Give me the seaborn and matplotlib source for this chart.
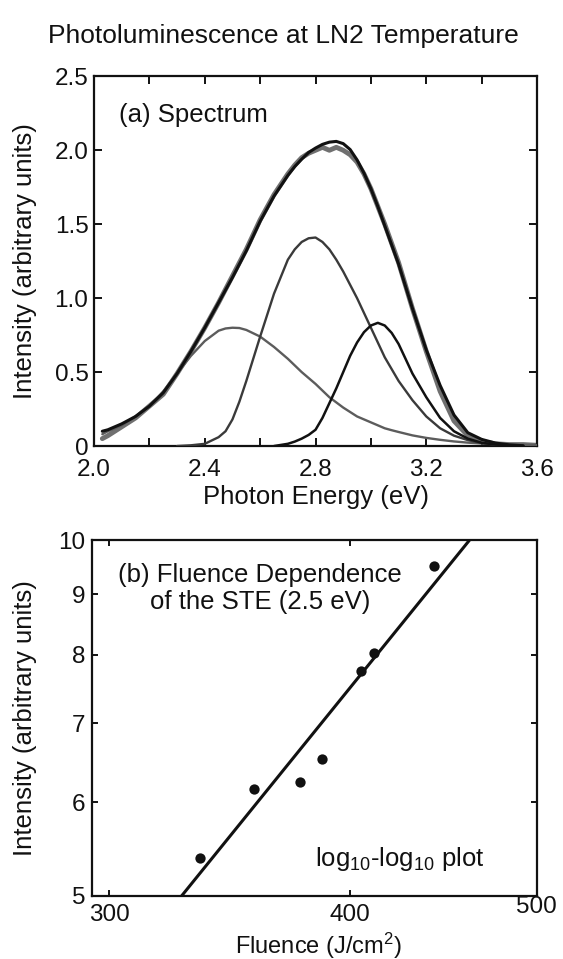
import numpy as np
import pandas as pd
import matplotlib
matplotlib.use("Agg")
import matplotlib.pyplot as plt
from matplotlib.ticker import NullLocator
import seaborn as sns

# ---------------- data ----------------
title = "Photoluminescence at LN2 Temperature"

nan = float("nan")
# (a) spectrum, photon energy in eV
energy = [2.03, 2.05, 2.10, 2.15, 2.20, 2.25, 2.30, 2.35, 2.40, 2.45,
          2.475, 2.50, 2.525, 2.55,
          2.60, 2.65, 2.70,
          2.725, 2.75, 2.775, 2.80, 2.825, 2.85, 2.875, 2.90, 2.925, 2.95,
          2.975, 3.00, 3.025, 3.05, 3.075, 3.10,
          3.15, 3.20, 3.25, 3.30, 3.35, 3.40, 3.45, 3.50, 3.55, 3.60]
measured = [0.05, 0.07, 0.13, 0.19, 0.27, 0.35, 0.49, 0.64, 0.80, 0.97,
            1.06, 1.15, 1.24, 1.33,
            1.53, 1.70, 1.84,
            1.90, 1.95, 1.98, 2.00, 2.02, 2.00, 2.02, 2.00, 1.97, 1.92,
            1.84, 1.74, 1.62, 1.50, 1.37, 1.24,
            0.93, 0.64, 0.37, 0.17, 0.07, 0.03, 0.015, 0.01, 0.01, 0.005]
total_fit = [0.10, 0.11, 0.15, 0.20, 0.27, 0.36, 0.49, 0.64, 0.80, 0.97,
             1.055, 1.14, 1.23, 1.32,
             1.52, 1.69, 1.83,
             1.89, 1.94, 1.985, 2.015, 2.04, 2.055, 2.06, 2.045, 2.005, 1.935,
             1.845, 1.74, 1.62, 1.49, 1.36, 1.23,
             0.93, 0.65, 0.41, 0.21, 0.09, 0.045, 0.02, 0.008, 0.002, nan]
peak_25 = [0.08, 0.10, 0.14, 0.20, 0.27, 0.37, 0.49, 0.61, 0.71, 0.78,
           0.795, 0.80, 0.798, 0.785,
           0.74, 0.67, 0.59,
           0.545, 0.50, 0.46, 0.42, 0.375, 0.33, 0.295, 0.26, 0.23, 0.20,
           0.18, 0.16, 0.14, 0.12, 0.107, 0.095,
           0.072, 0.055, 0.042, 0.031, 0.023, 0.017, 0.013, 0.010, 0.008, 0.006]
peak_28 = [nan, nan, nan, nan, nan, nan, 0.0, 0.005, 0.015, 0.06,
           0.10, 0.18, 0.30, 0.44,
           0.74, 1.03, 1.26,
           1.33, 1.38, 1.405, 1.41, 1.38, 1.33, 1.26, 1.18, 1.09, 1.00,
           0.90, 0.80, 0.70, 0.60, 0.52, 0.44,
           0.31, 0.20, 0.12, 0.07, 0.04, 0.02, 0.01, 0.005, 0.0, nan]
peak_30 = [nan, nan, nan, nan, nan, nan, nan, nan, nan, nan,
           nan, nan, nan, nan,
           nan, 0.0, 0.015,
           0.03, 0.05, 0.075, 0.11, 0.19, 0.29, 0.39, 0.50, 0.61, 0.70,
           0.77, 0.815, 0.833, 0.815, 0.765, 0.69,
           0.49, 0.33, 0.19, 0.10, 0.05, 0.022, 0.01, 0.004, 0.0, nan]

# (b) fluence dependence
fluence = [334.4, 356.8, 376.8, 387.0, 405.3, 411.5, 442.2]
ste_intensity = [5.38, 6.16, 6.24, 6.53, 7.75, 8.02, 9.50]
fit_fluence = [327.1, 461.5]
fit_intensity = [5.0, 10.0]

spec_xticks = [2.0, 2.2, 2.4, 2.6, 2.8, 3.0, 3.2, 3.4, 3.6]
spec_xticklabels = ["2.0", "", "2.4", "", "2.8", "", "3.2", "", "3.6"]
spec_yticks = [0, 0.5, 1.0, 1.5, 2.0, 2.5]
spec_yticklabels = ["0", "0.5", "1.0", "1.5", "2.0", "2.5"]
flu_xticks = [300, 400, 500]
flu_xticklabels = ["300", "400", "500"]
flu_yticks = [5, 6, 7, 8, 9, 10]
flu_yticklabels = ["5", "6", "7", "8", "9", "10"]

# ---------------- style ----------------
sns.set_theme(style="ticks")
plt.rcParams["font.family"] = ["Liberation Sans", "DejaVu Sans"]
plt.rcParams["mathtext.fontset"] = "custom"
plt.rcParams["mathtext.rm"] = "Liberation Sans"
plt.rcParams["mathtext.it"] = "Liberation Sans:italic"
plt.rcParams["mathtext.default"] = "regular"
FS = 18.5
TFS = 17.5
INK = "#111111"

fig = plt.figure(figsize=(5.63, 9.59), dpi=100)
fig.patch.set_facecolor("white")
ax1 = fig.add_axes([0.1670, 0.5349, 0.7869, 0.3855])
ax2 = fig.add_axes([0.1639, 0.0657, 0.7893, 0.3712])

# ---------------- panel (a) ----------------
spec = pd.DataFrame({"energy": energy, "measured": measured, "total": total_fit,
                     "p25": peak_25, "p28": peak_28, "p30": peak_30})
sns.lineplot(data=spec, x="energy", y="measured", ax=ax1, color="#707070",
             lw=3.5, estimator=None, zorder=2)
sns.lineplot(data=spec, x="energy", y="p25", ax=ax1, color="#5c5c5c",
             lw=1.7, estimator=None, zorder=3)
sns.lineplot(data=spec, x="energy", y="p28", ax=ax1, color="#3a3a3a",
             lw=1.7, estimator=None, zorder=3)
sns.lineplot(data=spec, x="energy", y="p30", ax=ax1, color=INK,
             lw=1.8, estimator=None, zorder=3)
sns.lineplot(data=spec, x="energy", y="total", ax=ax1, color=INK,
             lw=2.2, estimator=None, zorder=4)

ax1.set_xlim(2.0, 3.6)
ax1.set_ylim(0, 2.5)
ax1.set_xticks(spec_xticks)
ax1.set_xticklabels(spec_xticklabels)
ax1.set_yticks(spec_yticks)
ax1.set_yticklabels(spec_yticklabels)
ax1.tick_params(direction="in", length=6, width=1.4, top=True, right=True,
                labelsize=TFS, colors=INK)
ax1.tick_params(axis="x", pad=9.5)
ax1.tick_params(axis="y", pad=4)
ax1.set_xlabel("Photon Energy (eV)", fontsize=FS, color=INK)
ax1.set_ylabel("Intensity (arbitrary units)", fontsize=FS, color=INK)
ax1.xaxis.set_label_coords(0.5, -0.105)
ax1.yaxis.set_label_coords(-0.128, 0.5)
ax1.text(0.056, 0.895, "(a) Spectrum", transform=ax1.transAxes,
         fontsize=FS, va="center", ha="left", color=INK)

# ---------------- panel (b) ----------------
sns.lineplot(x=fit_fluence, y=fit_intensity, ax=ax2, color=INK, lw=2.2,
             estimator=None, zorder=2)
sns.scatterplot(x=fluence, y=ste_intensity, ax=ax2, color=INK, s=55,
                linewidth=0, zorder=3)
ax2.set_xscale("log")
ax2.set_yscale("log")
ax2.set_xlim(294, 500)
ax2.set_ylim(5, 10)
ax2.set_xticks(flu_xticks)
ax2.set_xticklabels(flu_xticklabels)
ax2.set_yticks(flu_yticks)
ax2.set_yticklabels(flu_yticklabels)
ax2.xaxis.set_minor_locator(NullLocator())
ax2.yaxis.set_minor_locator(NullLocator())
ax2.tick_params(direction="in", length=4, width=1.4, top=True, right=True,
                labelsize=TFS, colors=INK)
ax2.tick_params(axis="x", pad=6)
ax2.tick_params(axis="y", pad=5)
ax2.get_xticklabels()[2].set_y(0.024)
ax2.set_xlabel("Fluence (J/cm$^2$)", fontsize=17, color=INK)
ax2.set_ylabel("Intensity (arbitrary units)", fontsize=FS, color=INK)
ax2.xaxis.set_label_coords(0.51, -0.097)
ax2.yaxis.set_label_coords(-0.125, 0.5)
ax2.text(0.377, 0.864, "(b) Fluence Dependence\nof the STE (2.5 eV)",
         transform=ax2.transAxes, fontsize=FS, ha="center", va="center",
         multialignment="center", color=INK, linespacing=1.15)
ax2.text(0.501, 0.085, "log$_{10}$-log$_{10}$ plot", transform=ax2.transAxes,
         fontsize=FS, ha="left", va="baseline", color=INK)

for ax in (ax1, ax2):
    for sp in ax.spines.values():
        sp.set_linewidth(1.6)
        sp.set_color(INK)
        sp.set_visible(True)

fig.text(0.503, 0.9625, title, fontsize=19, ha="center", va="center",
         color=INK)

fig.savefig("out.png", dpi=100, facecolor="white")
